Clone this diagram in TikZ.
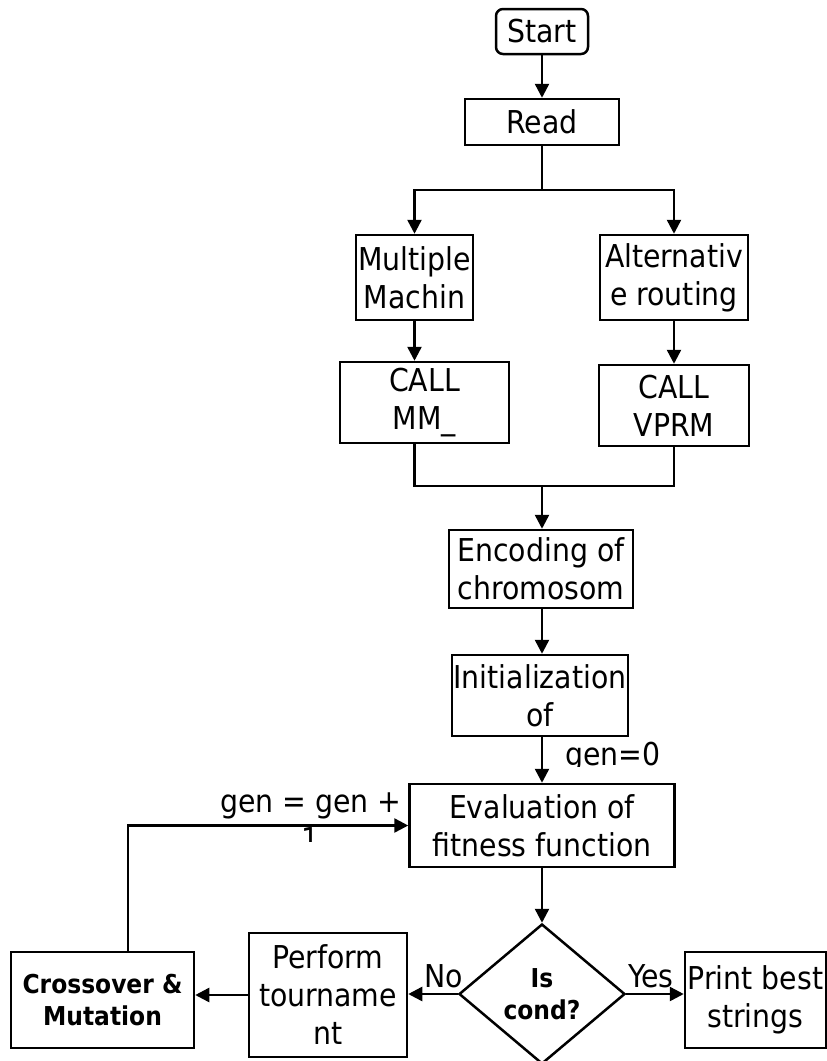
\documentclass[tikz,border=0pt]{standalone}
\usepackage{fontspec}
\setmainfont{DejaVu Sans Condensed}
\usetikzlibrary{arrows.meta,shapes.geometric}
\tikzstyle{box}=[draw, line width=2.5pt, inner sep=0pt, align=center, font=\fontsize{31.5}{38}\selectfont]
\tikzstyle{flow}=[line width=2.5pt, -{Triangle[length=14pt,width=14pt]}]
\tikzstyle{wire}=[line width=2.5pt]
\tikzstyle{lbl}=[inner sep=0pt, align=center, font=\fontsize{31.5}{38}\selectfont]
\tikzstyle{boldtext}=[font=\fontsize{26}{32}\selectfont\bfseries]

\begin{document}
\begin{tikzpicture}[x=1pt,y=-1pt]
		\useasboundingbox (0,0) rectangle (827,1061);
		
		\node(start) [box,rounded corners=7pt,minimum width=92pt,minimum height=45pt] at (542,31.5) {Start};
		\node(read) [box,minimum width=154pt,minimum height=46pt] at (542,122) {Read};
		\node(multi) [box,minimum width=117pt,minimum height=85pt] at (414.5,277.5) {Multiple\\Machin};
		\node(alt) [box,minimum width=148pt,minimum height=85pt] at (674,277.5) {Alternativ\\e routing};
		\node(callmm) [box,minimum width=169pt,minimum height=81pt] at (424.5,402.5) {CALL\\MM\_};
		\node(callvp) [box,minimum width=150pt,minimum height=81pt] at (674,405.5) {CALL\\VPRM};
		\node(enc) [box,minimum width=184pt,minimum height=78pt] at (541,569) {Encoding of\\chromosom};
		\node(init) [box,minimum width=176pt,minimum height=81pt] at (540,695.5) {Initialization\\of};
		\node(eval) [box,minimum width=265pt,minimum height=83pt] at (542,825.5) {Evaluation of\\fitness function};
		\node(cond) [box,diamond,minimum width=166pt,minimum height=140pt,boldtext] at (542,994) {Is\\cond?};
		\node(perf) [box,minimum width=158pt,minimum height=124pt] at (328,995) {Perform\\tourname\\nt};
		\node(cross) [box,minimum width=183pt,minimum height=96pt,boldtext] at (102.5,1000) {Crossover \&\\Mutation};
		\node(print) [box,minimum width=141pt,minimum height=96pt] at (755.5,1000) {Print best\\strings};
		
		\coordinate (split) at (542,190);
		\coordinate (merge) at (542,486);
		
		\draw[flow] (start) -- (read);
		\draw[wire] (read) -- (split);
		\draw[flow] (split) -| (multi);
		\draw[flow] (split) -| (alt);
		\draw[flow] (multi.south) -- (multi.south |- callmm.north);
		\draw[flow] (alt) -- (callvp);
		\draw[wire] (multi.south |- callmm.south) |- (merge) -| (callvp.south);
		\draw[flow] (merge) -- (merge |- enc.north);
		\draw[flow] (enc.south -| merge) -- (merge |- init.north);
		\draw[flow] (init.south -| merge) -- (eval);
		\draw[flow] (eval) -- (cond);
		\draw[flow] (cond.west) -- (cond.west -| perf.east);
		\draw[flow] (cond.east) -- (cond.east -| print.west);
		\draw[flow] (perf.west) -- (perf.west -| cross.east);
		\draw[flow] ([xshift=25.5pt]cross.north) |- (eval.west);
		
		\node(no) [lbl,anchor=base] at (444,987) {No};
		\node(yes) [lbl,anchor=base] at (651,987) {Yes};
		\begin{scope}
		\clip (545,730) rectangle (700,766);
		\node(gzero) [lbl,anchor=base] at (613,765) {gen=0};
		\end{scope}
		\begin{scope}
		\clip (200,775) rectangle (405,841);
		\node(ginc) [lbl,anchor=base] at (311,850) {gen = gen +\\1};
		\end{scope}
		
\end{tikzpicture}
\end{document}
